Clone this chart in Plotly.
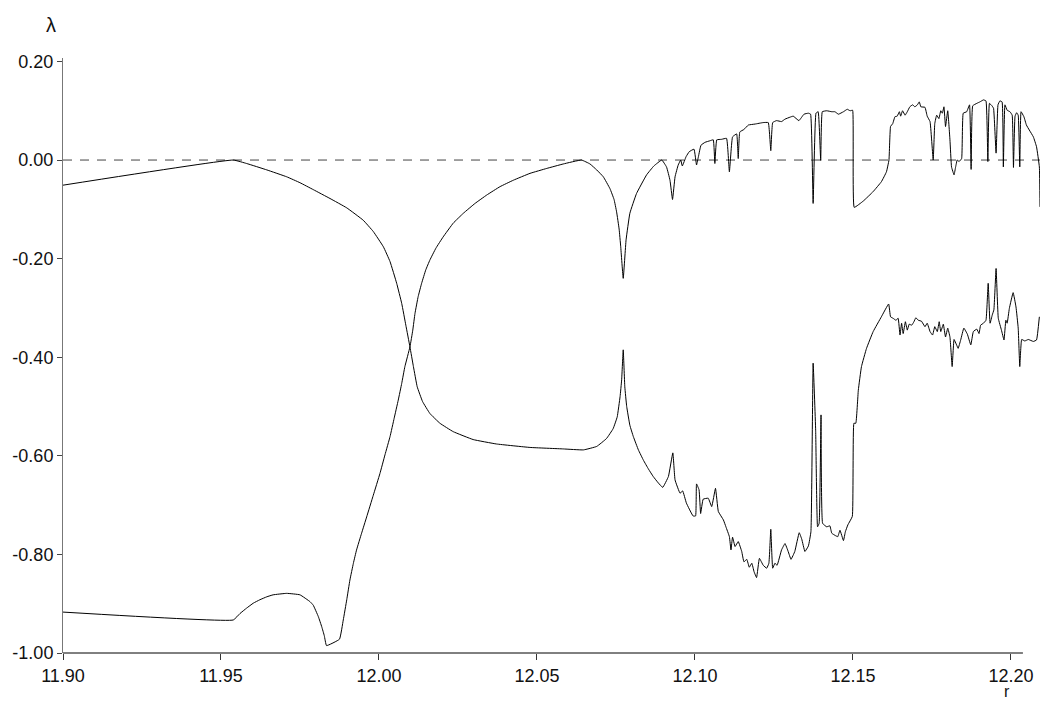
import plotly.graph_objects as go

# ---- data ----
r_a = [11.9000, 11.9539, 11.9581, 11.9645, 11.9708, 11.9750, 11.9792, 11.9845, 11.9898, 11.9950,
       11.9982, 12.0014, 12.0035, 12.0056, 12.0072, 12.0085, 12.0098, 12.0109, 12.0121, 12.0138,
       12.0161, 12.0193, 12.0235, 12.0298, 12.0372, 12.0478, 12.0583, 12.0647, 12.0689, 12.0720,
       12.0741, 12.0754, 12.0763, 12.0768, 12.0773, 12.0778, 12.0784, 12.0794, 12.0805, 12.0821,
       12.0837, 12.0853, 12.0868, 12.0884, 12.0898, 12.0916, 12.0930, 12.0937,
       12.0953, 12.0961, 12.0973, 12.0994, 12.1002, 12.1005, 12.1013, 12.1018, 12.1026, 12.1042,
       12.1053, 12.1065, 12.1074, 12.1090, 12.1098, 12.1109, 12.1114, 12.1119, 12.1127, 12.1137,
       12.1148, 12.1155, 12.1164, 12.1172, 12.1180, 12.1187, 12.1195, 12.1204, 12.1216, 12.1227,
       12.1234, 12.1240, 12.1246, 12.1253, 12.1260, 12.1274, 12.1285, 12.1295, 12.1304, 12.1316,
       12.1330, 12.1338, 12.1348, 12.1359, 12.1367, 12.1374, 12.1382, 12.1388, 12.1393, 12.1399,
       12.1404, 12.1417, 12.1427, 12.1433, 12.1445, 12.1452, 12.1459, 12.1470, 12.1476, 12.1484,
       12.1498, 12.1503, 12.1509, 12.1517, 12.1527, 12.1543, 12.1564, 12.1590, 12.1613, 12.1619,
       12.1627, 12.1636, 12.1643, 12.1649, 12.1654, 12.1659, 12.1666, 12.1672, 12.1678, 12.1686,
       12.1693, 12.1699, 12.1707, 12.1717, 12.1728, 12.1735, 12.1744, 12.1752, 12.1759, 12.1767,
       12.1773, 12.1778, 12.1786, 12.1793, 12.1800, 12.1807, 12.1814, 12.1820, 12.1828, 12.1833,
       12.1841, 12.1851, 12.1862, 12.1873, 12.1881, 12.1892, 12.1899, 12.1904, 12.1913, 12.1921,
       12.1928, 12.1934, 12.1941, 12.1946, 12.1953, 12.1960, 12.1970, 12.1978, 12.1984, 12.1988,
       12.1995, 12.2007, 12.2016, 12.2023, 12.2028, 12.2034, 12.2044, 12.2055, 12.2071, 12.2081,
       12.2090]
lam_a = [-0.051, 0.000, -0.007, -0.020, -0.034, -0.046, -0.060, -0.078, -0.097, -0.122,
         -0.145, -0.176, -0.206, -0.250, -0.291, -0.335, -0.379, -0.419, -0.460, -0.490,
         -0.514, -0.534, -0.551, -0.567, -0.576, -0.583, -0.586, -0.588, -0.581, -0.565,
         -0.545, -0.521, -0.480, -0.446, -0.385, -0.460, -0.500, -0.538, -0.561, -0.588,
         -0.609, -0.627, -0.642, -0.655, -0.664, -0.642, -0.594, -0.649,
         -0.676, -0.671, -0.696, -0.722, -0.722, -0.657, -0.669, -0.717, -0.688, -0.686,
         -0.703, -0.666, -0.713, -0.730, -0.744, -0.764, -0.791, -0.765, -0.784, -0.774,
         -0.794, -0.815, -0.810, -0.826, -0.818, -0.835, -0.847, -0.808, -0.822, -0.828,
         -0.818, -0.749, -0.828, -0.818, -0.822, -0.791, -0.778, -0.794, -0.810, -0.794,
         -0.756, -0.769, -0.794, -0.783, -0.754, -0.412, -0.548, -0.744, -0.737, -0.517,
         -0.737, -0.744, -0.742, -0.757, -0.762, -0.764, -0.751, -0.772, -0.754, -0.740,
         -0.723, -0.534, -0.534, -0.467, -0.419, -0.382, -0.348, -0.318, -0.292, -0.318,
         -0.321, -0.325, -0.321, -0.355, -0.331, -0.352, -0.328, -0.345, -0.333, -0.335,
         -0.328, -0.320, -0.325, -0.327, -0.338, -0.331, -0.348, -0.355, -0.338, -0.348,
         -0.328, -0.348, -0.333, -0.359, -0.341, -0.359, -0.419, -0.364, -0.375, -0.382,
         -0.365, -0.341, -0.353, -0.375, -0.348, -0.343, -0.352, -0.335, -0.331, -0.325,
         -0.250, -0.331, -0.314, -0.304, -0.220, -0.321, -0.345, -0.365, -0.325, -0.331,
         -0.301, -0.269, -0.298, -0.341, -0.419, -0.364, -0.367, -0.364, -0.368, -0.365,
         -0.318]

r_b = [11.9000, 11.9539, 11.9560, 11.9581, 11.9602, 11.9623, 11.9645, 11.9665, 11.9708, 11.9750,
       11.9782, 11.9792, 11.9808, 11.9819, 11.9827, 11.9834, 11.9875, 11.9887, 11.9898, 11.9908,
       11.9919, 11.9929, 11.9945, 11.9961, 11.9982, 12.0003, 12.0019, 12.0035, 12.0048, 12.0061,
       12.0072, 12.0082, 12.0098, 12.0107, 12.0114, 12.0124, 12.0135, 12.0148, 12.0161, 12.0180,
       12.0203, 12.0235, 12.0267, 12.0304, 12.0341, 12.0383, 12.0425, 12.0478, 12.0531, 12.0583,
       12.0641, 12.0668, 12.0689, 12.0710, 12.0731, 12.0744, 12.0752, 12.0760, 12.0765, 12.0773,
       12.0782, 12.0794, 12.0815, 12.0847, 12.0870, 12.0895,
       12.0910, 12.0921, 12.0929, 12.0937, 12.0947, 12.0955, 12.0960, 12.0972, 12.0982, 12.0997,
       12.1005, 12.1011, 12.1019, 12.1032, 12.1047, 12.1058, 12.1063, 12.1069, 12.1084, 12.1100,
       12.1109, 12.1119, 12.1132, 12.1137, 12.1142, 12.1155, 12.1169, 12.1190, 12.1216, 12.1232,
       12.1240, 12.1246, 12.1258, 12.1274, 12.1285, 12.1301, 12.1311, 12.1329, 12.1345, 12.1359,
       12.1366, 12.1374, 12.1383, 12.1390, 12.1398, 12.1403, 12.1417, 12.1433, 12.1443, 12.1454,
       12.1470, 12.1482, 12.1491, 12.1499, 12.1504, 12.1533, 12.1564, 12.1590, 12.1606, 12.1614,
       12.1619, 12.1626, 12.1633, 12.1640, 12.1647, 12.1651, 12.1657, 12.1665, 12.1672, 12.1680,
       12.1689, 12.1696, 12.1704, 12.1710, 12.1715, 12.1728, 12.1735, 12.1744, 12.1754, 12.1759,
       12.1765, 12.1772, 12.1778, 12.1783, 12.1788, 12.1793, 12.1800, 12.1807, 12.1812, 12.1820,
       12.1825, 12.1830, 12.1836, 12.1844, 12.1849, 12.1860, 12.1869, 12.1874, 12.1879, 12.1892,
       12.1902, 12.1913, 12.1921, 12.1927, 12.1932, 12.1940, 12.1945, 12.1953, 12.1959, 12.1965,
       12.1972, 12.1976, 12.1981, 12.1988, 12.1997, 12.2004, 12.2008, 12.2013, 12.2018, 12.2023,
       12.2028, 12.2032, 12.2041, 12.2049, 12.2058, 12.2071, 12.2081, 12.2090, 12.2092]
lam_b = [-0.917, -0.933, -0.920, -0.909, -0.899, -0.892, -0.886, -0.882, -0.879, -0.882,
         -0.896, -0.903, -0.926, -0.947, -0.965, -0.985, -0.972, -0.933, -0.892, -0.852,
         -0.818, -0.791, -0.757, -0.724, -0.680, -0.636, -0.598, -0.561, -0.524, -0.487,
         -0.453, -0.419, -0.379, -0.345, -0.311, -0.277, -0.250, -0.223, -0.203, -0.179,
         -0.156, -0.128, -0.108, -0.088, -0.071, -0.054, -0.041, -0.027, -0.017, -0.008,
         0.000, -0.008, -0.020, -0.034, -0.058, -0.080, -0.105, -0.140, -0.175, -0.240,
         -0.162, -0.108, -0.068, -0.030, -0.012, 0.000,
         -0.014, -0.041, -0.080, -0.034, -0.010, 0.000, -0.012, 0.007, 0.017, 0.022,
         -0.010, 0.007, 0.030, 0.036, 0.039, 0.041, -0.007, 0.041, 0.042, 0.044,
         -0.024, 0.047, 0.053, 0.003, 0.057, 0.062, 0.071, 0.073, 0.076, 0.076,
         0.019, 0.076, 0.080, 0.078, 0.083, 0.087, 0.089, 0.080, 0.093, 0.095,
         0.093, -0.088, 0.095, 0.098, -0.001, 0.098, 0.100, 0.098, 0.098, 0.093,
         0.098, 0.103, 0.100, 0.101, -0.096, -0.083, -0.064, -0.044, -0.024, 0.000,
         0.068, 0.074, 0.088, 0.089, 0.098, 0.089, 0.100, 0.091, 0.098, 0.108,
         0.112, 0.108, 0.112, 0.118, 0.108, 0.107, 0.089, 0.078, 0.000, 0.074,
         0.091, 0.084, 0.100, 0.095, 0.108, 0.068, 0.100, 0.041, -0.014, -0.030,
         -0.014, 0.000, -0.003, 0.003, 0.095, 0.098, 0.112, -0.019, 0.110, 0.115,
         0.118, 0.122, 0.120, -0.003, 0.115, 0.110, 0.105, 0.014, 0.112, 0.120,
         0.118, -0.014, 0.112, 0.101, 0.098, 0.091, -0.015, 0.089, 0.096, 0.091,
         -0.014, 0.098, 0.088, 0.071, 0.061, 0.047, 0.027, -0.014, -0.095]

x_tick_vals = [11.90, 11.95, 12.00, 12.05, 12.10, 12.15, 12.20]
x_tick_text = ["11.90", "11.95", "12.00", "12.05", "12.10", "12.15", "12.20"]
y_tick_vals = [0.20, 0.00, -0.20, -0.40, -0.60, -0.80, -1.00]
y_tick_text = ["0.20", "0.00", "-0.20", "-0.40", "-0.60", "-0.80", "-1.00"]

X_RANGE = [11.90, 12.2092]
Y_RANGE = [-1.00, 0.207]
X_AXIS_END = 12.2038

FONT = "Liberation Sans, Arial, sans-serif"

fig = go.Figure()
for rr, ll in ((r_a, lam_a), (r_b, lam_b)):
    fig.add_trace(go.Scatter(x=rr, y=ll, mode="lines",
                             line=dict(color="black", width=1, shape="spline", smoothing=0.3),
                             showlegend=False, hoverinfo="skip"))

# dashed zero line
fig.add_shape(type="line", xref="paper", yref="y", x0=0, x1=1, y0=0, y1=0,
              line=dict(color="#444444", width=1, dash="9px,8px"), layer="below")
# x axis line (ends before plot area edge)
x_end_frac = (X_AXIS_END - X_RANGE[0]) / (X_RANGE[1] - X_RANGE[0])
fig.add_shape(type="line", xref="paper", yref="paper", x0=0, x1=x_end_frac, y0=0, y1=0,
              line=dict(color="black", width=1))

fig.add_annotation(text="λ", xref="paper", yref="paper", x=-0.0123, y=1.055,
                   showarrow=False, xanchor="center", yanchor="middle",
                   font=dict(family=FONT, size=20, color="#111111"))
fig.add_annotation(text="r", xref="paper", yref="paper", x=0.966, y=(653 - 702) / 595,
                   showarrow=False, xanchor="center", yanchor="bottom",
                   font=dict(family=FONT, size=16, color="#111111"))

fig.update_layout(
    width=1041, height=702,
    margin=dict(l=63, r=1, t=58, b=49, pad=0),
    paper_bgcolor="white", plot_bgcolor="white",
    font=dict(family=FONT, size=18, color="#111111"),
    xaxis=dict(range=X_RANGE, tickmode="array", tickvals=x_tick_vals, ticktext=x_tick_text,
               showgrid=False, zeroline=False, showline=False,
               ticks="outside", ticklen=6, tickcolor="#333333", tickwidth=1,
               tickfont=dict(family=FONT, size=18, color="#111111")),
    yaxis=dict(range=Y_RANGE, tickmode="array", tickvals=y_tick_vals, ticktext=y_tick_text,
               showgrid=False, zeroline=False, showline=True, linecolor="#777777", linewidth=1,
               ticks="outside", ticklen=5, tickcolor="#444444", tickwidth=1,
               tickfont=dict(family=FONT, size=18, color="#111111")),
)

fig.write_html("out.html")
